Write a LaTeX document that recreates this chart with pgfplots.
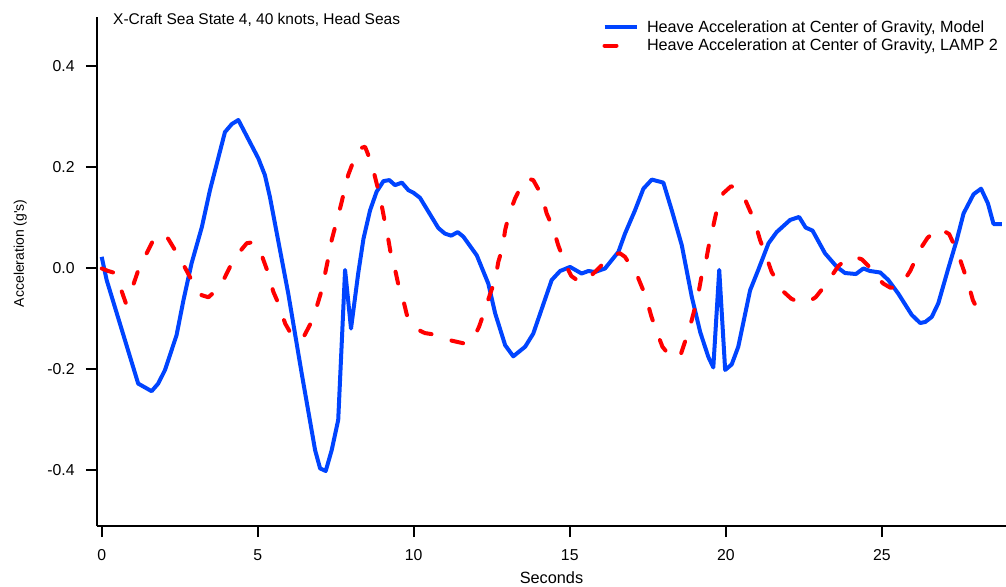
\documentclass[border=0pt]{standalone}
\usepackage{pgfplots}
\pgfplotsset{compat=1.18}
\usepackage{fontspec}
\setmainfont{Liberation Sans}
\definecolor{modelblue}{RGB}{0,68,255}
\definecolor{lampred}{RGB}{255,0,0}
\begin{document}
\fontsize{15.5bp}{18bp}\selectfont
\begin{tikzpicture}
\path[use as bounding box] (-97bp,-61bp) rectangle (909bp,526bp);
\begin{axis}[
  at={(0,0)}, anchor=south west,
  scale only axis, width=909bp, height=509bp,
  xmin=-0.15, xmax=28.98, ymin=-0.51, ymax=0.498,
  clip=false,
  axis x line=bottom, axis y line=left,
  axis line style={line width=2bp, -},
  tick align=outside, major tick length=11bp,
  tick style={line width=2bp, black},
  xtick={0,5,10,15,20,25},
  ytick={-0.4,-0.2,0,0.2,0.4},
  xticklabel style={yshift=-7bp},
  yticklabel style={xshift=-6bp},
  y tick label style={/pgf/number format/.cd, fixed, fixed zerofill, precision=1, assume math mode=true},
  x tick label style={/pgf/number format/assume math mode=true},
  tick label style={font=\fontsize{15.8bp}{18bp}\selectfont},
  xlabel={Seconds},
  xlabel style={at={(axis description cs:0.5,-0.112)}, anchor=base, inner sep=0pt, font=\fontsize{16.3bp}{18bp}\selectfont},
  ylabel={Acceleration (g\textquotesingle s)},
  ylabel style={at={(axis description cs:-0.0803,0.536)}, anchor=base, inner sep=0pt, font=\fontsize{14bp}{16bp}\selectfont},
  legend style={at={(axis description cs:0.5561,0.9945)}, anchor=north west, draw=none, fill=none,
    inner sep=0pt, outer sep=0pt, row sep=3.3bp, column sep=8bp, nodes={inner sep=0.5bp},
    font=\fontsize{16.2bp}{18bp}\selectfont},
  legend cell align=left,
  legend image code/.code={\draw[#1] (0bp,0bp) -- (32bp,0bp);},
]
\addplot[modelblue, line width=4bp, line join=round] coordinates {
(0.00,0.023)(0.16,-0.023)(1.17,-0.228)(1.60,-0.243)(1.81,-0.228)(2.03,-0.201)(2.40,-0.132)(2.62,-0.063)(2.88,0.010)(3.21,0.082)(3.47,0.155)(3.95,0.270)(4.17,0.286)(4.38,0.294)(5.02,0.218)(5.23,0.185)(5.39,0.142)(5.98,-0.050)(6.41,-0.208)(6.84,-0.360)(7.00,-0.396)(7.18,-0.401)(7.37,-0.360)(7.58,-0.300)(7.80,-0.003)(7.99,-0.119)(8.22,-0.010)(8.39,0.059)(8.60,0.115)(8.81,0.152)(9.03,0.173)(9.22,0.175)(9.40,0.165)(9.62,0.170)(9.83,0.155)(9.99,0.150)(10.20,0.140)(10.79,0.080)(11.00,0.069)(11.20,0.065)(11.41,0.072)(11.59,0.063)(12.02,0.026)(12.39,-0.030)(12.61,-0.089)(12.93,-0.152)(13.19,-0.174)(13.57,-0.155)(13.83,-0.129)(14.42,-0.023)(14.69,-0.005)(15.01,0.003)(15.38,-0.010)(15.60,-0.005)(15.81,-0.007)(16.13,0.000)(16.56,0.033)(16.77,0.069)(17.09,0.115)(17.36,0.158)(17.63,0.176)(18.00,0.170)(18.27,0.115)(18.59,0.046)(18.91,-0.056)(19.18,-0.126)(19.44,-0.175)(19.60,-0.196)(19.79,-0.003)(19.98,-0.201)(20.19,-0.190)(20.40,-0.155)(20.78,-0.043)(21.04,-0.003)(21.37,0.050)(21.63,0.072)(22.06,0.096)(22.35,0.102)(22.56,0.081)(22.78,0.075)(23.18,0.030)(23.56,0.003)(23.82,-0.009)(24.17,-0.011)(24.41,0.000)(24.62,-0.005)(24.95,-0.008)(25.21,-0.023)(25.53,-0.050)(25.96,-0.092)(26.23,-0.108)(26.39,-0.106)(26.60,-0.096)(26.81,-0.069)(27.13,0.000)(27.40,0.056)(27.62,0.109)(27.94,0.147)(28.18,0.158)(28.40,0.129)(28.58,0.088)(28.85,0.088)
};
\addlegendentry{Heave Acceleration at Center of Gravity, Model}
\addplot[lampred, line width=4bp, line cap=round, line join=round, dash pattern=on 12bp off 21bp] coordinates {
(0.00,0.000)(0.21,-0.005)(0.37,-0.008)(0.59,-0.036)(0.77,-0.068)(1.01,-0.033)(1.23,0.007)(1.44,0.030)(1.71,0.063)(1.92,0.067)(2.13,0.059)(2.51,0.020)(2.83,-0.017)(3.05,-0.045)(3.21,-0.053)(3.42,-0.057)(3.80,-0.036)(4.11,0.003)(4.38,0.030)(4.65,0.050)(4.85,0.052)(5.13,0.026)(5.34,-0.010)(5.50,-0.046)(5.66,-0.069)(5.88,-0.109)(6.09,-0.132)(6.32,-0.141)(6.46,-0.137)(6.78,-0.099)(7.05,-0.043)(7.16,-0.010)(7.26,0.020)(7.37,0.056)(7.48,0.082)(7.64,0.119)(7.90,0.185)(8.12,0.221)(8.28,0.238)(8.44,0.241)(8.65,0.208)(8.76,0.181)(8.92,0.142)(9.05,0.100)(9.19,0.056)(9.29,0.020)(9.42,-0.007)(9.51,-0.033)(9.64,-0.056)(9.78,-0.092)(10.06,-0.119)(10.36,-0.128)(10.79,-0.132)(11.22,-0.143)(11.65,-0.149)(11.90,-0.140)(12.09,-0.116)(12.26,-0.086)(12.45,-0.050)(12.61,-0.023)(12.71,0.013)(12.84,0.040)(12.93,0.076)(13.05,0.106)(13.25,0.139)(13.46,0.165)(13.65,0.178)(13.83,0.175)(14.10,0.145)(14.26,0.109)(14.47,0.079)(14.63,0.046)(14.85,0.010)(15.05,-0.015)(15.30,-0.026)(15.49,-0.026)(15.92,0.000)(16.20,0.018)(16.45,0.028)(16.61,0.030)(16.77,0.023)(16.95,0.005)(17.18,-0.017)(17.44,-0.056)(17.61,-0.094)(17.76,-0.121)(17.97,-0.155)(18.27,-0.178)(18.57,-0.168)(18.78,-0.129)(18.91,-0.102)(19.02,-0.076)(19.12,-0.050)(19.23,-0.013)(19.36,0.013)(19.47,0.050)(19.57,0.076)(19.71,0.115)(19.92,0.149)(20.17,0.163)(20.40,0.155)(20.60,0.139)(20.92,0.094)(21.10,0.056)(21.26,0.030)(21.47,-0.007)(21.85,-0.046)(22.10,-0.060)(22.41,-0.068)(22.65,-0.066)(22.88,-0.057)(23.10,-0.040)(23.31,-0.022)(23.61,0.005)(23.90,0.020)(24.14,0.023)(24.36,0.018)(24.57,0.005)(24.80,-0.015)(25.05,-0.030)(25.27,-0.038)(25.48,-0.038)(25.70,-0.025)(25.91,-0.005)(26.12,0.023)(26.30,0.045)(26.47,0.061)(26.84,0.080)(27.16,0.068)(27.44,0.030)(27.76,-0.028)(27.92,-0.063)(28.00,-0.073)
};
\addlegendentry{Heave Acceleration at Center of Gravity, LAMP 2}
\node[anchor=base west, inner sep=0pt, font=\fontsize{15.5bp}{18bp}\selectfont] at (axis description cs:0.0176,0.9862) {X-Craft Sea State 4, 40 knots, Head Seas};
\end{axis}
\end{tikzpicture}
\end{document}
